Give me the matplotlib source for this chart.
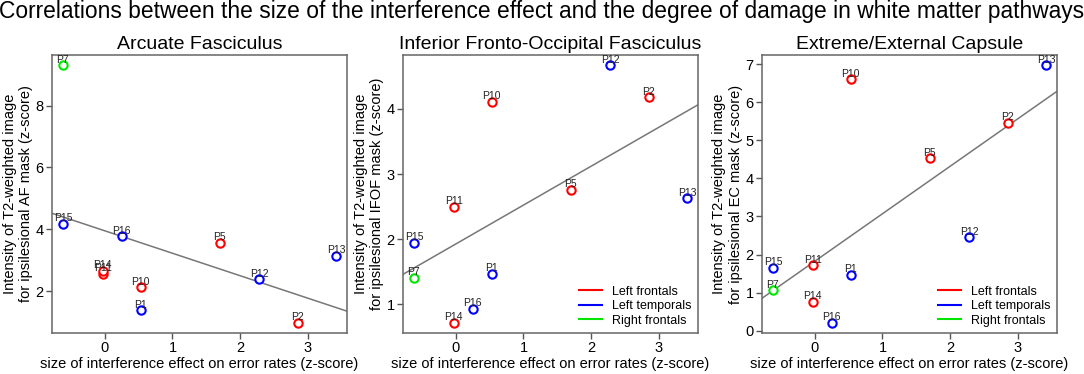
import numpy as np
import matplotlib
matplotlib.use('Agg')
import matplotlib.pyplot as plt
from matplotlib.lines import Line2D

plt.rcParams['font.family'] = ['Liberation Sans', 'DejaVu Sans']

# data
patients = ['P1', 'P2', 'P5', 'P7', 'P10', 'P11', 'P12', 'P13', 'P14', 'P15', 'P16']
group = ['LT', 'LF', 'LF', 'RF', 'LF', 'LF', 'LT', 'LT', 'LF', 'LT', 'LT']
interf = [0.53, 2.85, 1.70, -0.62, 0.53, -0.03, 2.28, 3.42, -0.03, -0.62, 0.25]

y_af = [1.38, 0.98, 3.57, 9.30, 2.12, 2.55, 2.38, 3.13, 2.65, 4.18, 3.77]
y_ifof = [1.47, 4.18, 2.76, 1.41, 4.11, 2.50, 4.67, 2.63, 0.72, 1.95, 0.93]
y_ec = [1.47, 5.45, 4.53, 1.06, 6.60, 1.72, 2.45, 6.97, 0.75, 1.65, 0.21]

titles = ['Arcuate Fasciculus', 'Inferior Fronto-Occipital Fasciculus', 'Extreme/External Capsule']
masks = ['AF', 'IFOF', 'EC']
yticks = [[2, 4, 6, 8], [1, 2, 3, 4], [0, 1, 2, 3, 4, 5, 6, 7]]
group_names = {'LF': 'Left frontals', 'LT': 'Left temporals', 'RF': 'Right frontals'}
group_cols = {'LF': '#ff0000', 'LT': '#0000ff', 'RF': '#00e600'}

fig = plt.figure(figsize=(10.84, 3.74), dpi=100)
fig.suptitle('Correlations between the size of the interference effect and the degree of damage in white matter pathways',
             fontsize=16.4, y=1.0)

lefts = [52, 403, 762]
x = np.array(interf)
for i, yv in enumerate([y_af, y_ifof, y_ec]):
    y = np.array(yv)
    ax = fig.add_axes([lefts[i] / 1084, 41 / 374, 295 / 1084, 278 / 374])
    # R style limits, 4% padding
    xr = x.max() - x.min()
    yr = y.max() - y.min()
    xlim = (x.min() - 0.04 * xr, x.max() + 0.04 * xr)
    ylim = (y.min() - 0.04 * yr, y.max() + 0.04 * yr)

    b, a = np.polyfit(x, y, 1)
    xx = np.array(xlim)
    ax.plot(xx, a + b * xx, color='#777777', lw=1.1, zorder=1)

    for p, g, xi, yi in zip(patients, group, x, y):
        ax.plot(xi, yi, 'o', mfc='white', mec=group_cols[g], mew=1.5, ms=6, zorder=3)
        ax.annotate(p, (xi, yi), xytext=(0, 0.5), textcoords='offset points',
                    ha='center', va='bottom', fontsize=7.5, color='#222222', zorder=4)

    ax.set_xlim(xlim)
    ax.set_ylim(ylim)
    ax.set_xticks([0, 1, 2, 3])
    ax.set_yticks(yticks[i])
    ax.tick_params(labelsize=10.5, color='#555555', length=4, width=1, pad=2)
    for s in ax.spines.values():
        s.set_color('#666666')
        s.set_linewidth(1.1)
    ax.set_title(titles[i], fontsize=14, pad=4)
    ax.set_xlabel('size of interference effect on error rates (z-score)', fontsize=10.5, labelpad=1)
    ax.set_ylabel('Intensity of T2-weighted image\nfor ipsilesional %s mask (z-score)' % masks[i],
                  fontsize=10.5, labelpad=2)

    if i > 0:
        handles = [Line2D([], [], color=group_cols[k], lw=1.5) for k in ['LF', 'LT', 'RF']]
        ax.legend(handles, [group_names[k] for k in ['LF', 'LT', 'RF']], loc='lower right',
                  frameon=False, fontsize=9, handlelength=1.85, handletextpad=0.8,
                  labelspacing=0.2, borderaxespad=0.1)

fig.savefig('out.png', dpi=100)
